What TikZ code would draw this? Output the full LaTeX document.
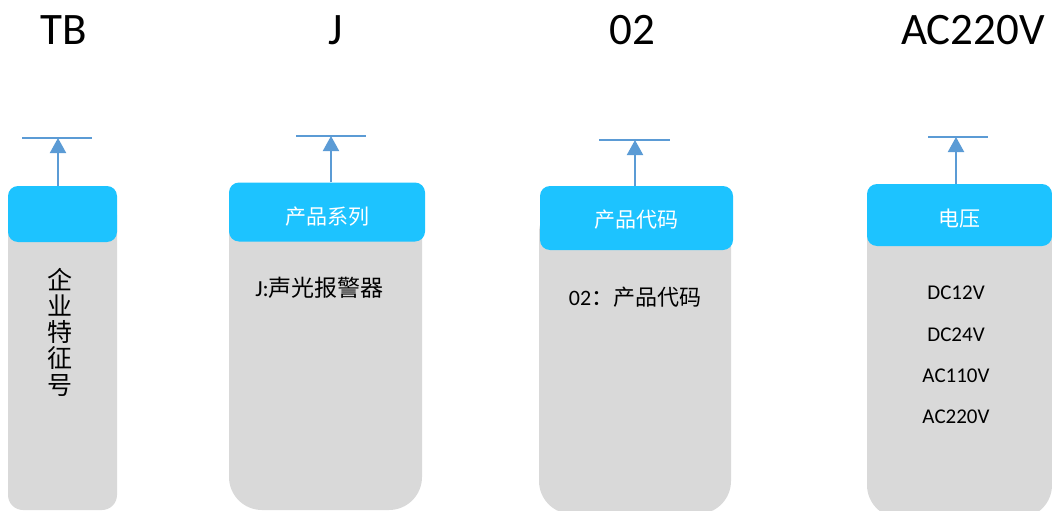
\documentclass[tikz,border=0pt]{standalone}
\usepackage{fontspec}
\setmainfont{Carlito}
\newfontfamily\cjk{Noto Sans CJK SC}
\usetikzlibrary{arrows.meta}
\definecolor{headblue}{RGB}{29,195,255}
\definecolor{bodygray}{RGB}{217,217,217}
\definecolor{arrowblue}{RGB}{91,155,213}
\begin{document}
\begin{tikzpicture}[x=1pt,y=-1pt,
  head/.style={rectangle, fill=headblue, rounded corners=10pt, inner sep=0pt},
  title/.style={text=white, font=\cjk\fontsize{21}{21}\selectfont},
  body/.style={rectangle, fill=bodygray, inner sep=0pt},
  up/.style={draw=arrowblue, line width=2pt, -{Triangle[length=15pt,width=16pt]}},
  bar/.style={draw=arrowblue, line width=2pt},
  code/.style={font=\fontsize{45}{45}\selectfont, anchor=base}]
\useasboundingbox (0,0) rectangle (1052,511);
% codes on top
\node [code] (tb) at (64,45) {TB};
\node [code] (j) at (336,45) {J};
\node [code] (zt) at (632,45) {02};
\node [code] (ac) at (973,45) {AC220V};
% grey bodies
\node [body, rounded corners=15pt, minimum width=109pt, minimum height=310pt] (tbbody) at (62.5,355) {};
\node [body, rounded corners=33pt, minimum width=193pt, minimum height=310pt] (jbody) at (325.5,355) {};
\node [body, rounded corners=33pt, minimum width=192pt, minimum height=314pt] (ztbody) at (635,357) {};
\node [body, rounded corners=33pt, minimum width=185pt, minimum height=318pt] (acbody) at (959.5,359) {};
% blue heads
\node [head, minimum width=109pt, minimum height=56pt] (tbhead) at (62.5,214) {};
\node [head, minimum width=196pt, minimum height=59pt,
  label={[title, yshift=-5pt]center:产品系列}] (jhead) at (327,212) {};
\node [head, minimum width=193pt, minimum height=64pt,
  label={[title, yshift=-2pt]center:产品代码}] (zthead) at (636.5,218) {};
\node [head, minimum width=185pt, minimum height=62pt,
  label={[title, yshift=-4pt]center:电压}] (achead) at (959.5,215) {};
% texts in bodies
\node [font=\cjk\fontsize{25}{26.2}\selectfont, align=center] (tbtext) at (59.5,332) {企\\业\\特\\征\\号};
\node [font=\fontsize{23}{23}\selectfont] (jtext) at (319.5,288) {J:{\cjk 声光报警器}};
\node [font=\fontsize{22}{22}\selectfont] (zttext) at (635,297) {02{\cjk ：产品代码}};
\node [font=\fontsize{21}{41.3}\selectfont, align=center] (actext) at (956,355) {DC12V\\DC24V\\AC110V\\AC220V};
% arrows and bars
\coordinate (tbtip) at (58,138);
\coordinate (jtip) at (331,136);
\coordinate (zttip) at (635,140);
\coordinate (actip) at (956,137);
\draw [up] (tbtip |- tbhead.north) -- (tbtip);
\draw [up] (jtip |- jhead.north) -- (jtip);
\draw [up] (zttip |- zthead.north) -- (zttip);
\draw [up] (actip |- achead.north) -- (actip);
\draw [bar] ([xshift=-36pt]tbtip) -- ([xshift=34pt]tbtip);
\draw [bar] ([xshift=-35pt]jtip) -- ([xshift=35pt]jtip);
\draw [bar] ([xshift=-36pt]zttip) -- ([xshift=35pt]zttip);
\draw [bar] ([xshift=-28pt]actip) -- ([xshift=32pt]actip);
\end{tikzpicture}
\end{document}
